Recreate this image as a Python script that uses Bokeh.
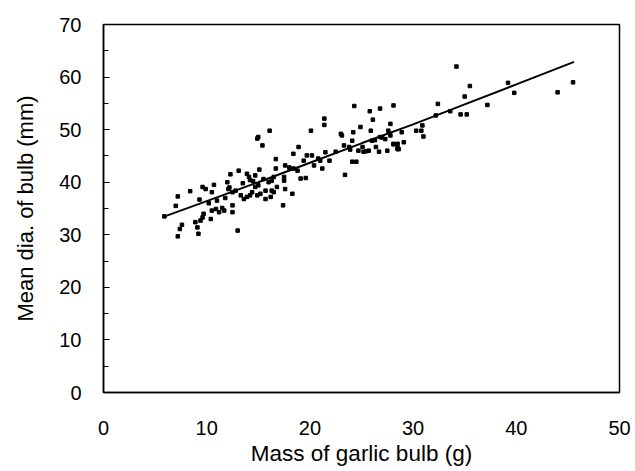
from bokeh.plotting import figure
from bokeh.models import SingleIntervalTicker, Range1d
from bokeh.embed import file_html
from bokeh.resources import INLINE

# Observed points: mass of garlic bulb (g) vs mean diameter (mm)
mass = [5.9, 7.2, 7.4, 7.6, 7.0, 7.2, 8.4, 9.3, 9.6, 9.9, 10.7, 10.5, 9.1, 8.9, 9.4,
        9.6, 9.7, 9.2, 10.4, 10.5, 10.9, 11.2, 11.5, 11.7, 12.5, 12.5, 13.0, 12.0, 12.3,
        12.1, 12.5, 12.8, 13.1, 13.3, 13.6, 13.9, 14.2, 14.1, 13.9, 14.2, 14.4, 14.7,
        15.0, 14.9, 15.2, 15.7, 15.7, 16.0, 16.2, 14.7, 15.1, 14.9, 15.0, 15.4, 16.1,
        16.7, 16.8, 16.5, 16.7, 16.3, 16.5, 17.5, 17.6, 17.5, 17.6, 16.3, 17.4, 18.3,
        18.4, 18.9, 18.4, 18.8, 19.1, 19.6, 19.4, 19.7, 20.2, 20.1, 20.4, 21.0, 21.2,
        21.5, 21.9, 21.4, 21.4, 23.0, 23.1, 23.3, 23.4, 23.8, 23.9, 24.1, 24.2, 24.1,
        24.5, 24.3, 24.9, 24.7, 25.1, 25.2, 25.5, 25.7, 25.9, 25.8, 26.0, 26.1, 26.4,
        26.7, 26.8, 26.8, 27.3, 27.5, 27.6, 27.8, 28.1, 28.1, 28.5, 27.8, 28.5, 28.9,
        29.1, 28.6, 30.3, 30.8, 30.9, 31.0, 32.4, 32.2, 28.1, 28.5, 33.6, 34.2, 34.6,
        35.2, 35.0, 35.5, 37.2, 39.2, 39.8, 44.0, 45.5,
        10.2, 11.0, 11.8, 12.2, 13.5, 14.5, 15.5, 18.0, 20.8, 22.5, 26.3, 27.0]
diameter = [33.5, 29.7, 31.1, 31.9, 35.5, 37.3, 38.3, 36.7, 39.1, 38.7, 39.5, 38.1, 31.4,
            32.4, 32.7, 33.3, 34.0, 30.2, 33.0, 34.6, 34.9, 34.3, 35.1, 34.6, 34.3, 35.6,
            30.8, 40.0, 41.5, 38.7, 38.1, 38.4, 42.2, 37.5, 36.8, 37.2, 37.5, 41.0, 41.6,
            40.4, 38.1, 39.1, 39.4, 37.5, 37.8, 36.8, 38.4, 40.0, 37.2, 41.3, 42.4, 48.3,
            48.6, 47.0, 49.8, 44.4, 39.1, 38.1, 42.6, 40.3, 41.0, 41.0, 43.2, 40.3, 38.7,
            38.4, 35.6, 37.8, 45.4, 46.7, 42.6, 42.2, 40.7, 40.8, 44.1, 45.1, 45.1, 49.8,
            43.2, 44.1, 42.6, 45.7, 44.1, 52.1, 50.9, 49.2, 48.9, 47.0, 41.4, 46.7, 46.2,
            47.9, 49.5, 43.9, 43.9, 54.5, 50.5, 46.0, 46.7, 45.8, 45.9, 46.0, 49.8, 53.5,
            47.9, 51.9, 46.7, 45.8, 54.0, 48.6, 48.2, 46.0, 49.8, 48.9, 54.6, 47.3, 46.3,
            51.1, 47.3, 49.5, 47.6, 46.3, 49.8, 49.8, 50.8, 48.7, 54.9, 52.7, 47.2, 46.5,
            53.5, 62.0, 52.9, 52.9, 56.3, 58.3, 54.7, 58.9, 57.0, 57.1, 59.0,
            36.0, 36.5, 37.0, 39.0, 39.8, 40.2, 40.6, 42.8, 44.5, 45.8, 48.0, 48.5]

# Fitted curve
fit_mass = [5.8, 10, 15, 20, 25, 30, 35, 40, 45.6]
fit_diameter = [33.4, 36.4, 40.0, 43.7, 47.4, 51.0, 54.8, 58.6, 62.9]

x_title = "Mass of garlic bulb (g)"
y_title = "Mean dia. of bulb (mm)"

FONT = "Liberation Sans"

p = figure(frame_width=516, frame_height=368, output_backend="svg",
           toolbar_location=None, x_range=Range1d(0, 50), y_range=Range1d(0, 70),
           min_border_left=103, min_border_right=14, min_border_top=24,
           min_border_bottom=78)
p.background_fill_color = "white"
p.border_fill_color = "white"
p.outline_line_color = "black"
p.outline_line_width = 1.5
p.xgrid.visible = False
p.ygrid.visible = False

p.line(fit_mass, fit_diameter, line_color="black", line_width=2)
p.scatter(mass, diameter, marker="square", size=3.5, color="black")

p.xaxis.ticker = SingleIntervalTicker(interval=10, num_minor_ticks=0)
p.yaxis.ticker = SingleIntervalTicker(interval=10, num_minor_ticks=2)

for ax in (p.xaxis[0], p.yaxis[0]):
    ax.axis_line_color = "black"
    ax.axis_line_width = 1.5
    ax.major_label_text_font = FONT
    ax.major_label_text_font_size = "20px"
    ax.major_label_text_color = "black"
    ax.axis_label_text_font = FONT
    ax.axis_label_text_font_style = "normal"
    ax.axis_label_text_color = "black"

p.xaxis.axis_label = x_title
p.yaxis.axis_label = y_title
p.xaxis.axis_label_text_font_size = "22.5px"
p.yaxis.axis_label_text_font_size = "22px"

p.xaxis.major_tick_line_color = None
p.xaxis.minor_tick_line_color = None
p.xaxis.major_label_standoff = 22
p.xaxis.axis_label_standoff = 3

p.yaxis.major_tick_in = 6
p.yaxis.major_tick_out = 0
p.yaxis.minor_tick_in = 5
p.yaxis.minor_tick_out = 0
p.yaxis.major_tick_line_color = "black"
p.yaxis.minor_tick_line_color = "black"
p.yaxis.major_label_standoff = 22
p.yaxis.axis_label_standoff = 18

open("out.html", "w").write(file_html(p, INLINE))
